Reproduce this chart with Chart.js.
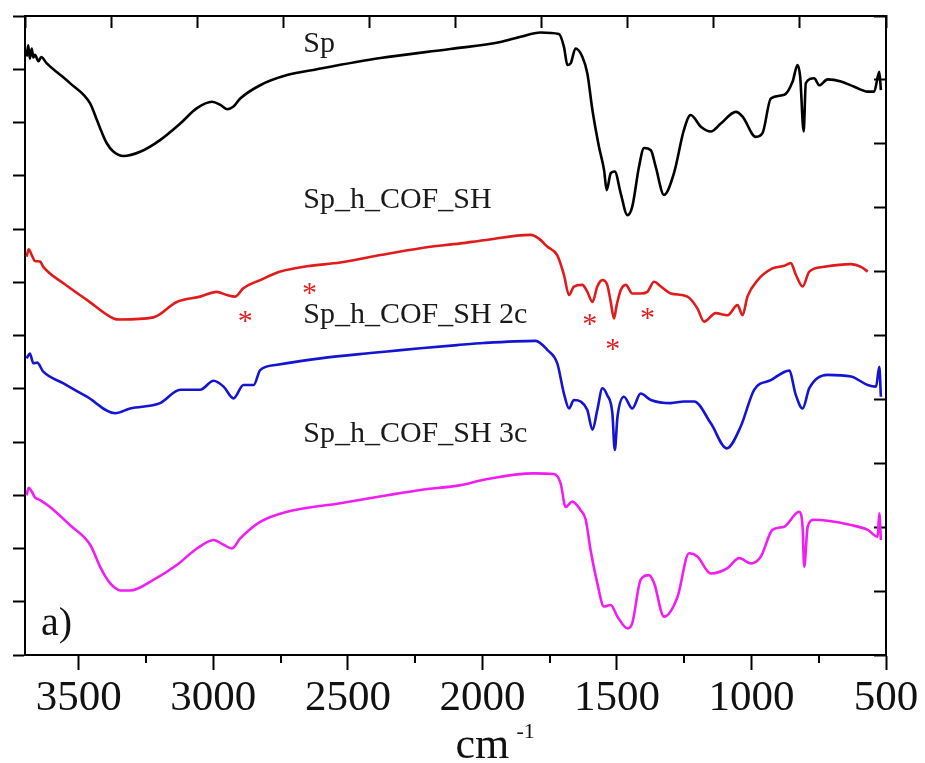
<!DOCTYPE html>
<html>
<head>
<meta charset="utf-8">
<script src="https://cdn.jsdelivr.net/npm/chart.js@4.4.0/dist/chart.umd.min.js"></script>
<style>
  body { margin: 0; background: #fff; }
  .wrap { position: relative; width: 925px; height: 763px; }
</style>
</head>
<body>
<div class="wrap"><canvas id="ftir"></canvas></div>
<script>
// FTIR spectra: wavenumber (cm-1) vs. transmittance, curves stacked with offsets (a.u.)
const wnSp = [3694,3688,3682,3675,3669,3663,3650,3640,3619,3533,3458,3433,3415,3396,3373,3334,3272,3198,3123,3061,3005,2974,2949,2925,2900,2826,2726,2615,2379,2119,1933,1858,1784,1716,1697,1684,1672,1654,1629,1610,1591,1567,1548,1538,1523,1508,1486,1461,1443,1418,1399,1374,1356,1325,1288,1251,1226,1188,1151,1114,1058,1033,984,959,928,878,847,829,819,806,798,767,748,717,667,618,568,544,525,519];
const tSp = [112.4,114.5,112.0,113.9,112.2,112.7,111.5,112.3,111.1,107.4,103.6,100.5,98.2,96.1,94.6,93.7,94.5,96.7,99.8,102.7,103.9,103.3,102.5,103.0,104.5,107.0,108.9,110.0,112.1,113.8,115.1,116.1,116.9,116.6,114.2,110.8,111.1,113.9,112.4,109.2,102.3,95.5,91.1,87.3,90.5,90.8,86.7,82.6,84.2,91.7,95.2,94.8,91.7,86.4,90.5,98.6,101.4,99.2,98.3,99.8,102.0,101.1,97.3,98.0,104.5,105.2,107.7,110.8,108.6,98.3,107.4,108.3,107.0,108.1,107.7,106.7,105.8,105.8,109.5,106.1];

const wnCof = [3694,3686,3675,3663,3644,3632,3557,3470,3371,3346,3223,3136,3049,2987,2949,2919,2888,2826,2751,2652,2528,2379,2230,2081,1995,1821,1790,1759,1722,1697,1678,1660,1629,1610,1591,1573,1554,1536,1523,1511,1501,1486,1467,1443,1412,1387,1362,1337,1300,1238,1201,1176,1133,1089,1052,1033,1015,977,922,878,854,835,810,785,730,630,593,568];
const tCof = [74.8,76.2,75.1,74.0,73.9,72.9,69.8,66.7,63.2,63.0,63.4,66.3,67.3,68.2,67.6,67.3,68.9,70.4,72.0,73.0,73.7,75.1,76.4,77.3,77.9,78.9,78.2,76.7,75.1,71.4,67.6,69.2,69.5,68.2,66.3,69.2,70.4,69.5,66.3,63.2,65.7,68.5,69.5,67.9,67.9,68.2,70.1,69.2,67.9,67.3,65.1,62.6,64.2,63.8,65.7,63.8,67.3,70.4,72.6,73.1,73.6,71.4,69.2,72.0,72.9,73.4,72.9,72.0];

const wnCof2c = [3694,3682,3669,3655,3632,3557,3470,3365,3309,3198,3123,3049,2999,2962,2925,2888,2850,2826,2763,2602,2416,2354,2230,2094,1995,1802,1759,1722,1697,1678,1660,1635,1610,1591,1573,1554,1536,1517,1508,1498,1474,1443,1412,1374,1300,1251,1213,1151,1092,1040,990,928,860,835,810,785,717,630,568,537,525,519];
const tCof2c = [55.7,56.6,54.8,54.9,53.2,51.0,48.5,45.4,46.3,47.3,49.8,49.8,51.5,50.4,48.2,50.7,50.7,53.5,54.5,55.7,56.7,57.0,57.6,58.2,58.6,59.0,57.3,54.8,49.1,46.3,47.9,47.6,46.0,42.3,46.0,50.1,48.8,45.4,38.5,44.7,48.5,46.3,49.1,47.9,47.3,47.6,47.6,43.5,38.8,42.9,49.8,51.6,53.4,48.8,46.3,50.1,52.6,52.3,50.7,50.4,54.1,48.5];

const wnCof3c = [3694,3686,3675,3663,3644,3607,3533,3458,3421,3402,3384,3365,3346,3309,3223,3136,3061,2999,2962,2931,2900,2826,2726,2528,2354,2230,2081,1995,1809,1734,1709,1691,1666,1635,1616,1598,1573,1548,1523,1498,1461,1443,1412,1381,1362,1325,1275,1232,1201,1151,1089,1046,1002,965,922,878,823,810,804,791,767,717,630,568,531,525,519];
const tCof3c = [30.0,31.4,30.7,29.6,29.1,27.8,24.4,20.7,16.6,14.8,13.5,12.6,12.1,12.1,14.1,16.9,20.0,21.6,20.7,20.0,21.9,25.0,26.9,28.5,30.0,31.0,31.9,32.9,34.1,34.0,32.2,27.8,28.8,27.2,25.4,19.7,13.5,9.1,9.4,7.2,5.0,6.0,14.1,15.0,13.5,7.2,10.9,19.1,18.5,15.3,16.3,18.2,17.2,18.5,23.5,24.1,26.9,24.1,16.6,24.1,25.4,25.2,24.4,23.5,22.2,26.6,21.6];

// labelled wavenumber ticks
const xTicks = [3500, 3000, 2500, 2000, 1500, 1000, 500];

// curve labels (left edge wavenumber, baseline level)
const seriesNames = ["Sp", "Sp_h_COF_SH", "Sp_h_COF_SH 2c", "Sp_h_COF_SH 3c"];
const labelWn = 2666;
const labelT = [113.2, 83.9, 62.4, 40.0];

// asterisks marking the COF bands
const starWn = [2881, 2643, 1601, 1516, 1386];
const starT = [63.8, 69.1, 63.3, 58.6, 64.4];

const colors = ["#000000", "#e11b1b", "#1414d2", "#f01ef0"];

const pairs = (xs, ys) => xs.map((v, i) => ({ x: v, y: ys[i] }));

const serif = "'Liberation Serif', 'Times New Roman', serif";

const annotate = {
  id: "annotate",
  afterDraw(chart) {
    const { ctx, chartArea, scales } = chart;
    const x = scales.x, y = scales.y;
    ctx.save();

    // minor ticks half way between the labelled ones
    ctx.strokeStyle = "#000";
    ctx.lineWidth = 2;
    for (let i = 0; i < xTicks.length - 1; i++) {
      const px = Math.round(x.getPixelForValue((xTicks[i] + xTicks[i + 1]) / 2));
      ctx.beginPath();
      ctx.moveTo(px, chartArea.bottom);
      ctx.lineTo(px, chartArea.bottom + 8);
      ctx.stroke();
    }

    // curve names
    ctx.fillStyle = "#1a1a1a";
    ctx.font = "30px " + serif;
    ctx.textBaseline = "alphabetic";
    ctx.textAlign = "left";
    seriesNames.forEach((name, i) => {
      ctx.fillText(name, x.getPixelForValue(labelWn), y.getPixelForValue(labelT[i]));
    });

    // asterisks
    ctx.fillStyle = "#e02020";
    ctx.font = "30px " + serif;
    ctx.textAlign = "center";
    starWn.forEach((w, i) => {
      ctx.fillText("*", x.getPixelForValue(w), y.getPixelForValue(starT[i]) + 15);
    });

    // panel tag
    ctx.fillStyle = "#111";
    ctx.font = "40px " + serif;
    ctx.textAlign = "left";
    ctx.fillText("a)", chartArea.left + 16, chartArea.bottom - 20);

    // axis title cm^-1
    const cx = (chartArea.left + chartArea.right) / 2;
    ctx.font = "44px " + serif;
    ctx.fillText("cm", cx, 758);
    ctx.font = "22px " + serif;
    ctx.fillText("-1", cx + 61, 738);

    ctx.restore();
  }
};

new Chart(document.getElementById("ftir"), {
  type: "line",
  data: {
    datasets: [
      { data: pairs(wnSp, tSp), borderColor: colors[0] },
      { data: pairs(wnCof, tCof), borderColor: colors[1] },
      { data: pairs(wnCof2c, tCof2c), borderColor: colors[2] },
      { data: pairs(wnCof3c, tCof3c), borderColor: colors[3] },
    ],
  },
  options: {
    responsive: true,
    maintainAspectRatio: false,
    animation: false,
    layout: { padding: 0 },
    elements: {
      point: { radius: 0 },
      line: { borderWidth: 2.6, cubicInterpolationMode: "monotone" },
    },
    plugins: { legend: { display: false }, tooltip: { enabled: false } },
    scales: {
      x: {
        type: "linear",
        position: "bottom",
        reverse: true,
        min: 500,
        max: 3700,
        afterBuildTicks(s) { s.ticks = xTicks.map(v => ({ value: v })); },
        ticks: {
          color: "#111",
          padding: 3,
          maxRotation: 0,
          autoSkip: false,
          font: { family: serif, size: 43 },
          callback: v => String(v),
        },
        grid: { drawOnChartArea: false, tickLength: 15, tickWidth: 2, tickColor: "#000" },
        border: { color: "#000", width: 2 },
        afterFit(s) { s.height = 108; },
      },
      x2: {
        type: "linear",
        position: "top",
        min: 0,
        max: 10,
        ticks: { stepSize: 1, display: false },
        grid: { drawOnChartArea: false, tickLength: -12, tickWidth: 2, tickColor: "#000" },
        border: { color: "#000", width: 2 },
        afterFit(s) { s.height = 16; },
      },
      y: {
        type: "linear",
        position: "left",
        min: 0,
        max: 120,
        ticks: { stepSize: 10, display: false },
        grid: { drawOnChartArea: false, tickLength: 12, tickWidth: 2, tickColor: "#000" },
        border: { color: "#000", width: 2 },
        afterFit(s) { s.width = 25; },
      },
      y2: {
        type: "linear",
        position: "right",
        min: 0,
        max: 100,
        ticks: { stepSize: 10, display: false },
        grid: { drawOnChartArea: false, tickLength: -12, tickWidth: 2, tickColor: "#000" },
        border: { color: "#000", width: 2 },
        afterFit(s) { s.width = 39; },
      },
    },
  },
  plugins: [annotate],
});
</script>
</body>
</html>
